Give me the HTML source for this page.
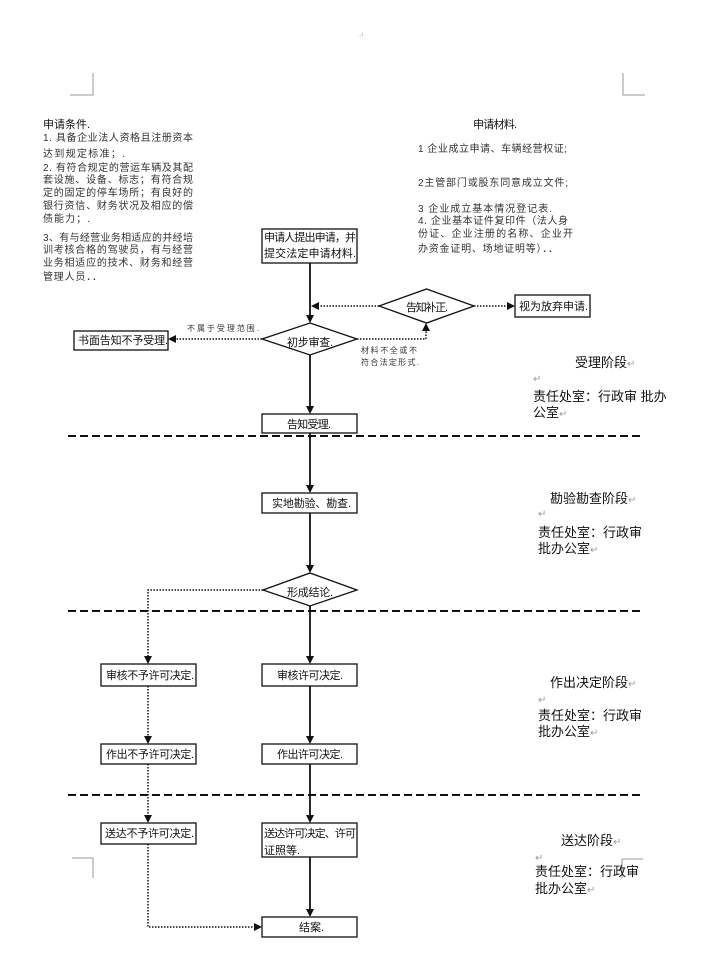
<!DOCTYPE html>
<html><head><meta charset="utf-8"><style>
html,body{margin:0;padding:0;background:#fff;}
svg{display:block;}
text{font-family:"Liberation Sans","Noto Sans CJK SC",sans-serif;fill:#111;}
.p{font-size:10px;fill:#333;}
.b{font-size:11px;}
.s{font-size:8px;fill:#333;}
.st{font-size:13px;}
.m{fill:#999;}
</style></head><body>
<svg width="710" height="974" viewBox="0 0 710 974" xmlns="http://www.w3.org/2000/svg">
<!-- corner marks -->
<g stroke="#999" stroke-width="1" fill="none">
<polyline points="70,95 93,95 93,73"/>
<polyline points="645,95 623,95 623,73"/>
<polyline points="72,858 93,858 93,878"/>
<polyline points="643,859 622,859 622,878"/>
</g>
<text x="358" y="36" font-size="6" class="m">..ı</text>

<!-- left paragraph -->
<text class="p" x="43" y="128" textLength="47" lengthAdjust="spacing" style="font-size:11px;fill:#111">申请条件.</text>
<text class="p" x="43" y="141" textLength="150" lengthAdjust="spacing">1. 具备企业法人资格且注册资本</text>
<text class="p" x="43" y="157" textLength="82" lengthAdjust="spacing">达到规定标准；.</text>
<text class="p" x="43" y="171" textLength="150" lengthAdjust="spacing">2. 有符合规定的营运车辆及其配</text>
<text class="p" x="43" y="183" textLength="150" lengthAdjust="spacing">套设施、设备、标志；有符合规</text>
<text class="p" x="43" y="196" textLength="150" lengthAdjust="spacing">定的固定的停车场所；有良好的</text>
<text class="p" x="43" y="209" textLength="150" lengthAdjust="spacing">银行资信、财务状况及相应的偿</text>
<text class="p" x="43" y="222" textLength="47" lengthAdjust="spacing">债能力；.</text>
<text class="p" x="43" y="241" textLength="150" lengthAdjust="spacing">3、有与经营业务相适应的并经培</text>
<text class="p" x="43" y="253" textLength="150" lengthAdjust="spacing">训考核合格的驾驶员，有与经营</text>
<text class="p" x="43" y="266" textLength="150" lengthAdjust="spacing">业务相适应的技术、财务和经营</text>
<text class="p" x="43" y="280" textLength="59" lengthAdjust="spacing">管理人员．．</text>

<!-- right paragraph -->
<text class="p" x="473" y="128" textLength="44" lengthAdjust="spacing" style="font-size:11px;fill:#111">申请材料.</text>
<text class="p" x="418" y="152" textLength="149" lengthAdjust="spacing">1 企业成立申请、车辆经营权证;</text>
<text class="p" x="418" y="186" textLength="150" lengthAdjust="spacing">2主管部门或股东同意成立文件;</text>
<text class="p" x="418" y="212" textLength="134" lengthAdjust="spacing">3 企业成立基本情况登记表.</text>
<text class="p" x="418" y="224" textLength="150" lengthAdjust="spacing">4. 企业基本证件复印件（法人身</text>
<text class="p" x="418" y="237" textLength="155" lengthAdjust="spacing">份证、企业注册的名称、企业开</text>
<text class="p" x="418" y="252" textLength="140" lengthAdjust="spacing">办资金证明、场地证明等）．．</text>

<!-- dashed separators -->
<g stroke="#111" stroke-width="2" stroke-dasharray="8,4" fill="none">
<line x1="68" y1="436" x2="642" y2="436"/>
<line x1="68" y1="611" x2="642" y2="611"/>
<line x1="68" y1="795" x2="642" y2="795"/>
</g>

<!-- solid connectors -->
<g stroke="#111" stroke-width="1.8" fill="none">
<line x1="310" y1="263" x2="310" y2="316"/>
<line x1="310" y1="355" x2="310" y2="407"/>
<line x1="310" y1="433" x2="310" y2="486"/>
<line x1="310" y1="513" x2="310" y2="566"/>
<line x1="310" y1="606" x2="310" y2="657"/>
<line x1="310" y1="686" x2="310" y2="737"/>
<line x1="310" y1="764" x2="310" y2="816"/>
<line x1="310" y1="857" x2="310" y2="910"/>
</g>
<!-- dotted connectors -->
<g stroke="#111" stroke-width="1.5" stroke-dasharray="1.5,1.5" fill="none">
<line x1="379" y1="306" x2="318" y2="306"/>
<polyline points="357,339 426,339 426,330"/>
<line x1="474" y1="306" x2="507" y2="306"/>
<line x1="262" y1="339" x2="175" y2="339"/>
<polyline points="263,590 148,590 148,657"/>
<line x1="148" y1="686" x2="148" y2="737"/>
<line x1="148" y1="764" x2="148" y2="816"/>
<polyline points="148,844 148,927 255,927"/>
</g>

<!-- arrowheads -->
<g fill="#111">
<polygon points="306,315 314,315 310,323"/>
<polygon points="306,406 314,406 310,414"/>
<polygon points="306,485 314,485 310,493"/>
<polygon points="306,565 314,565 310,573"/>
<polygon points="306,656 314,656 310,664"/>
<polygon points="306,736 314,736 310,744"/>
<polygon points="306,815 314,815 310,823"/>
<polygon points="306,909 314,909 310,917"/>
<polygon points="144,656 152,656 148,664"/>
<polygon points="144,736 152,736 148,744"/>
<polygon points="144,815 152,815 148,823"/>
<polygon points="311,306 319,302 319,310"/>
<polygon points="426,323 422,331 430,331"/>
<polygon points="515,306 507,302 507,310"/>
<polygon points="168,339 176,335 176,343"/>
<polygon points="262,927 254,923 254,931"/>
</g>

<!-- boxes -->
<g stroke="#111" stroke-width="1.3" fill="#fff">
<rect x="262" y="229" width="95" height="34"/>
<rect x="515" y="295" width="75" height="22"/>
<rect x="74" y="331" width="94" height="19"/>
<rect x="262" y="414" width="95" height="19"/>
<rect x="262" y="493" width="95" height="20"/>
<rect x="101" y="664" width="95" height="22"/>
<rect x="262" y="664" width="95" height="22"/>
<rect x="101" y="744" width="95" height="20"/>
<rect x="262" y="744" width="95" height="20"/>
<rect x="101" y="823" width="95" height="21"/>
<rect x="262" y="823" width="95" height="34"/>
<rect x="262" y="917" width="95" height="20"/>
<polygon points="310,323 357,339 310,355 262,339"/>
<polygon points="426.5,289 474,306 426.5,323 379,306"/>
<polygon points="310,573 357,590 310,606 263,590"/>
</g>

<!-- box text -->
<text class="b" x="264" y="241" textLength="92" lengthAdjust="spacing">申请人提出申请，并</text>
<text class="b" x="264" y="257" textLength="92" lengthAdjust="spacing">提交法定申请材料.</text>
<text class="b" x="519" y="310" textLength="69" lengthAdjust="spacing">视为放弃申请.</text>
<text class="b" x="78" y="344" textLength="90" lengthAdjust="spacing">书面告知不予受理.</text>
<text class="s" x="187" y="331" textLength="72" lengthAdjust="spacing">不属于受理范围.</text>
<text class="b" x="287" y="346" textLength="46" lengthAdjust="spacing">初步审查.</text>
<text class="b" x="406" y="311" textLength="42" lengthAdjust="spacing">告知补正.</text>
<text class="s" x="361" y="353" textLength="56" lengthAdjust="spacing">材料不全或不</text>
<text class="s" x="361" y="365" textLength="58" lengthAdjust="spacing">符合法定形式.</text>
<text class="b" x="287" y="428" textLength="44" lengthAdjust="spacing">告知受理.</text>
<text class="b" x="272" y="507" textLength="79" lengthAdjust="spacing">实地勘验、勘查.</text>
<text class="b" x="287" y="596" textLength="46" lengthAdjust="spacing">形成结论.</text>
<text class="b" x="106" y="679" textLength="88" lengthAdjust="spacing">审核不予许可决定.</text>
<text class="b" x="277" y="679" textLength="66" lengthAdjust="spacing">审核许可决定.</text>
<text class="b" x="106" y="758" textLength="88" lengthAdjust="spacing">作出不予许可决定.</text>
<text class="b" x="277" y="758" textLength="66" lengthAdjust="spacing">作出许可决定.</text>
<text class="b" x="105" y="837" textLength="89" lengthAdjust="spacing">送达不予许可决定.</text>
<text class="b" x="264" y="837" textLength="92" lengthAdjust="spacing">送达许可决定、许可</text>
<text class="b" x="264" y="854">证照等.</text>
<text class="b" x="299" y="931" textLength="25" lengthAdjust="spacing">结案.</text>

<!-- stage labels -->
<text class="st" x="575" y="367">受理阶段<tspan class="m" font-size="10">↵</tspan></text>
<text class="m" x="533" y="382" font-size="10">↵</text>
<text class="st" x="533" y="401">责任处室：行政审 批办</text>
<text class="st" x="533" y="417">公室<tspan class="m" font-size="10">↵</tspan></text>

<text class="st" x="550" y="503">勘验勘查阶段<tspan class="m" font-size="10">↵</tspan></text>
<text class="m" x="538" y="517" font-size="10">↵</text>
<text class="st" x="538" y="537">责任处室：行政审</text>
<text class="st" x="538" y="553">批办公室<tspan class="m" font-size="10">↵</tspan></text>

<text class="st" x="550" y="687">作出决定阶段<tspan class="m" font-size="10">↵</tspan></text>
<text class="m" x="538" y="703" font-size="10">↵</text>
<text class="st" x="538" y="720">责任处室：行政审</text>
<text class="st" x="538" y="736">批办公室<tspan class="m" font-size="10">↵</tspan></text>

<text class="st" x="561" y="845">送达阶段<tspan class="m" font-size="10">↵</tspan></text>
<text class="m" x="535" y="861" font-size="10">↵</text>
<text class="st" x="535" y="876">责任处室：行政审</text>
<text class="st" x="535" y="893">批办公室<tspan class="m" font-size="10">↵</tspan></text>
</svg>
</body></html>
